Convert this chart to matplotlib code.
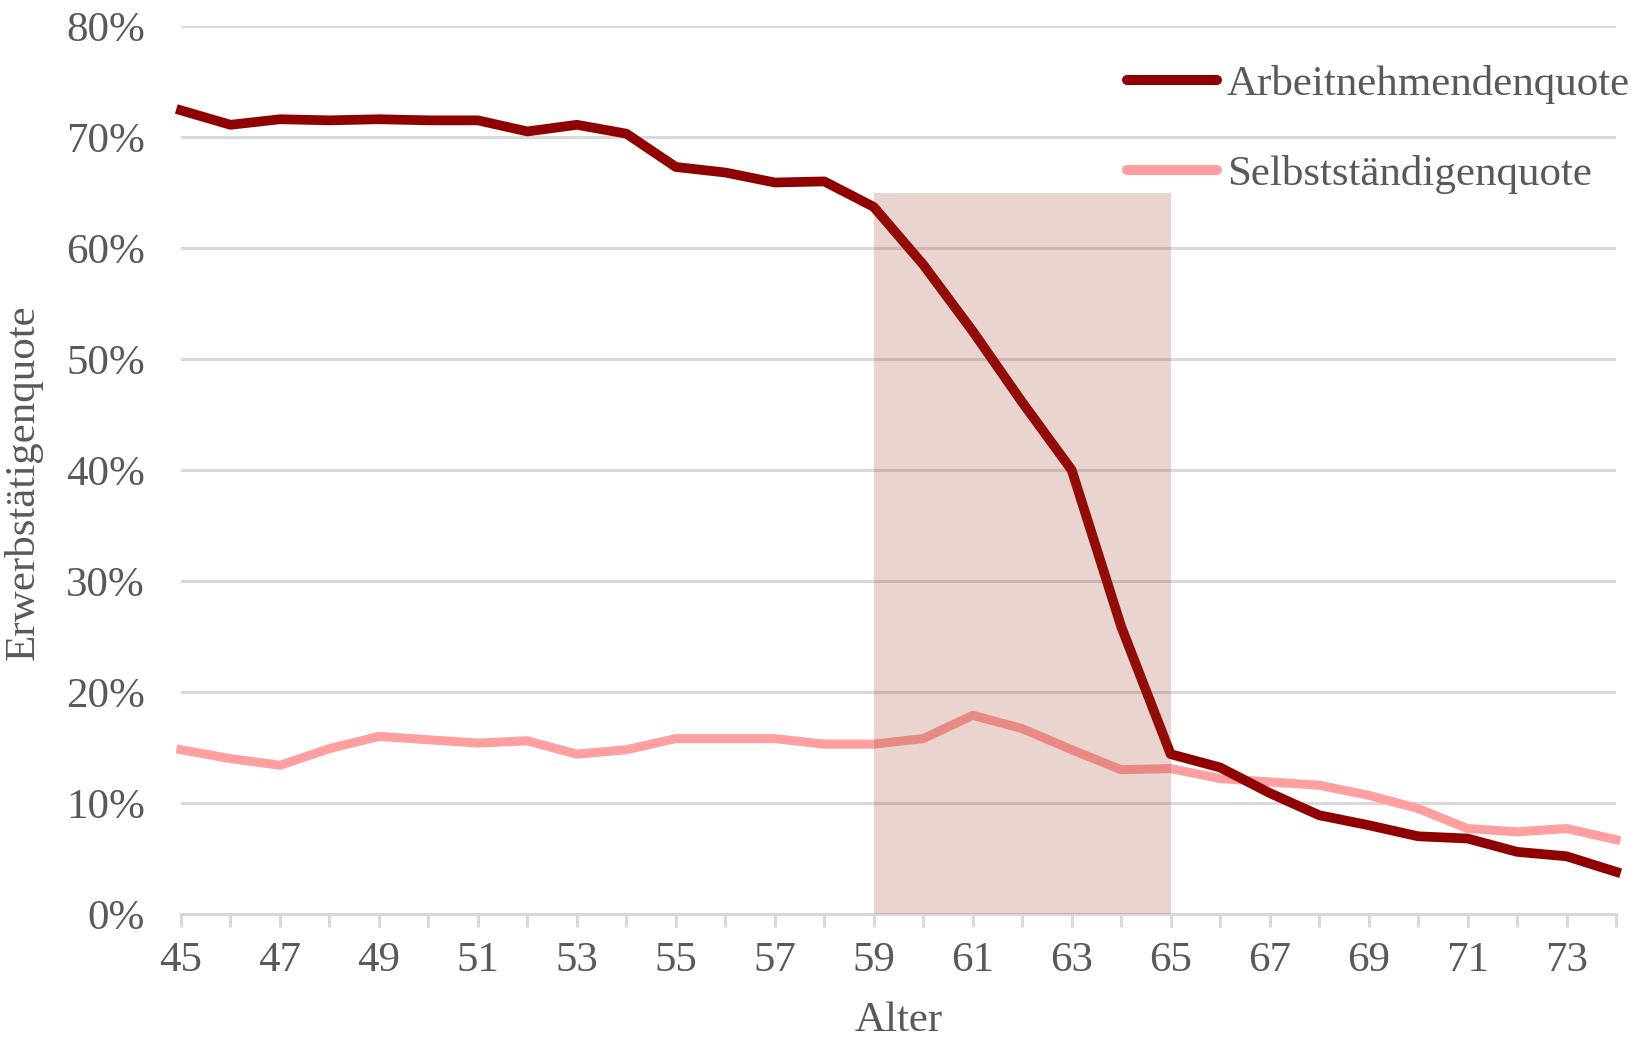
import matplotlib
matplotlib.use("Agg")
import matplotlib.pyplot as pl
import matplotlib.ticker as mticker
from matplotlib.patches import Rectangle

alter = list(range(45, 75))
arbeitnehmende = [
    72.4, 71.1, 71.6, 71.5, 71.6, 71.5, 71.5, 70.5, 71.1, 70.3,
    67.3, 66.8, 65.9, 66.0, 63.7, 58.5, 52.5, 46.1, 40.0, 25.9,
    14.4, 13.2, 10.9, 8.9, 8.0, 7.0, 6.8, 5.6, 5.2, 3.8,
]
selbststaendige = [
    14.8, 14.0, 13.4, 14.9, 16.0, 15.7, 15.4, 15.6, 14.4, 14.8,
    15.8, 15.8, 15.8, 15.3, 15.3, 15.8, 17.9, 16.7, 14.8, 13.0,
    13.1, 12.2, 11.9, 11.6, 10.7, 9.5, 7.7, 7.4, 7.7, 6.7,
]
labels = ["Arbeitnehmendenquote", "Selbstständigenquote"]
colors = ["#900000", "#FF9F9F"]
band = (59, 65, 65.0)  # start age, end age, height in %

grey = "#595959"
grid = "#D9D9D9"
pl.rcParams["font.family"] = ["Liberation Serif", "DejaVu Serif"]
pl.rcParams["font.size"] = 31

fig = pl.figure(figsize=(16.4, 10.4), dpi=100)
ax = fig.add_axes([181 / 1640, 1 - 914 / 1040, 1435 / 1640, 888 / 1040])

ax.plot(alter, [v / 100 for v in arbeitnehmende], color=colors[0], lw=7.0,
        label=labels[0], clip_on=False, zorder=3)
ax.plot(alter, [v / 100 for v in selbststaendige], color=colors[1], lw=6.5,
        label=labels[1], clip_on=False, zorder=2)
ax.add_patch(Rectangle((band[0], 0), band[1] - band[0], band[2] / 100,
                       facecolor="#9B3C25", alpha=0.22, lw=0, zorder=4))

ax.set_xlim(45, 74)
ax.set_ylim(0, 0.8)
ax.yaxis.set_major_locator(mticker.MultipleLocator(0.1))
ax.yaxis.set_major_formatter(mticker.PercentFormatter(1.0, decimals=0))
ax.xaxis.set_major_locator(mticker.FixedLocator(range(45, 75, 2)))
ax.xaxis.set_minor_locator(mticker.FixedLocator(range(46, 75, 2)))
ax.grid(axis="y", color=grid, lw=2.2, zorder=0)
ax.set_axisbelow(True)
for side in ["top", "right", "left"]:
    ax.spines[side].set_visible(False)
ax.spines["bottom"].set_color(grid)
ax.spines["bottom"].set_linewidth(2.2)
ax.tick_params(axis="x", which="both", length=9, width=2.2, color=grid,
               labelcolor=grey, pad=11)
ax.tick_params(axis="y", length=0, labelcolor=grey, pad=26)

ax.set_xlabel("Alter", color=grey)
ax.xaxis.set_label_coords(0.5, -0.099)
ax.set_ylabel("Erwerbstätigenquote", color=grey)
ax.yaxis.set_label_coords(-0.0962, 0.4865)

leg = ax.legend(loc="upper left", bbox_to_anchor=(1105 / 1640, 1 - 43 / 1040),
                bbox_transform=fig.transFigure, frameon=False, borderpad=0,
                handlelength=2.1, handletextpad=0.23, labelspacing=1.19)
for t in leg.get_texts():
    t.set_color(grey)
for h in leg.get_lines():
    h.set_linewidth(7.2)
    h.set_solid_capstyle("round")

fig.savefig("out.png", dpi=100)
